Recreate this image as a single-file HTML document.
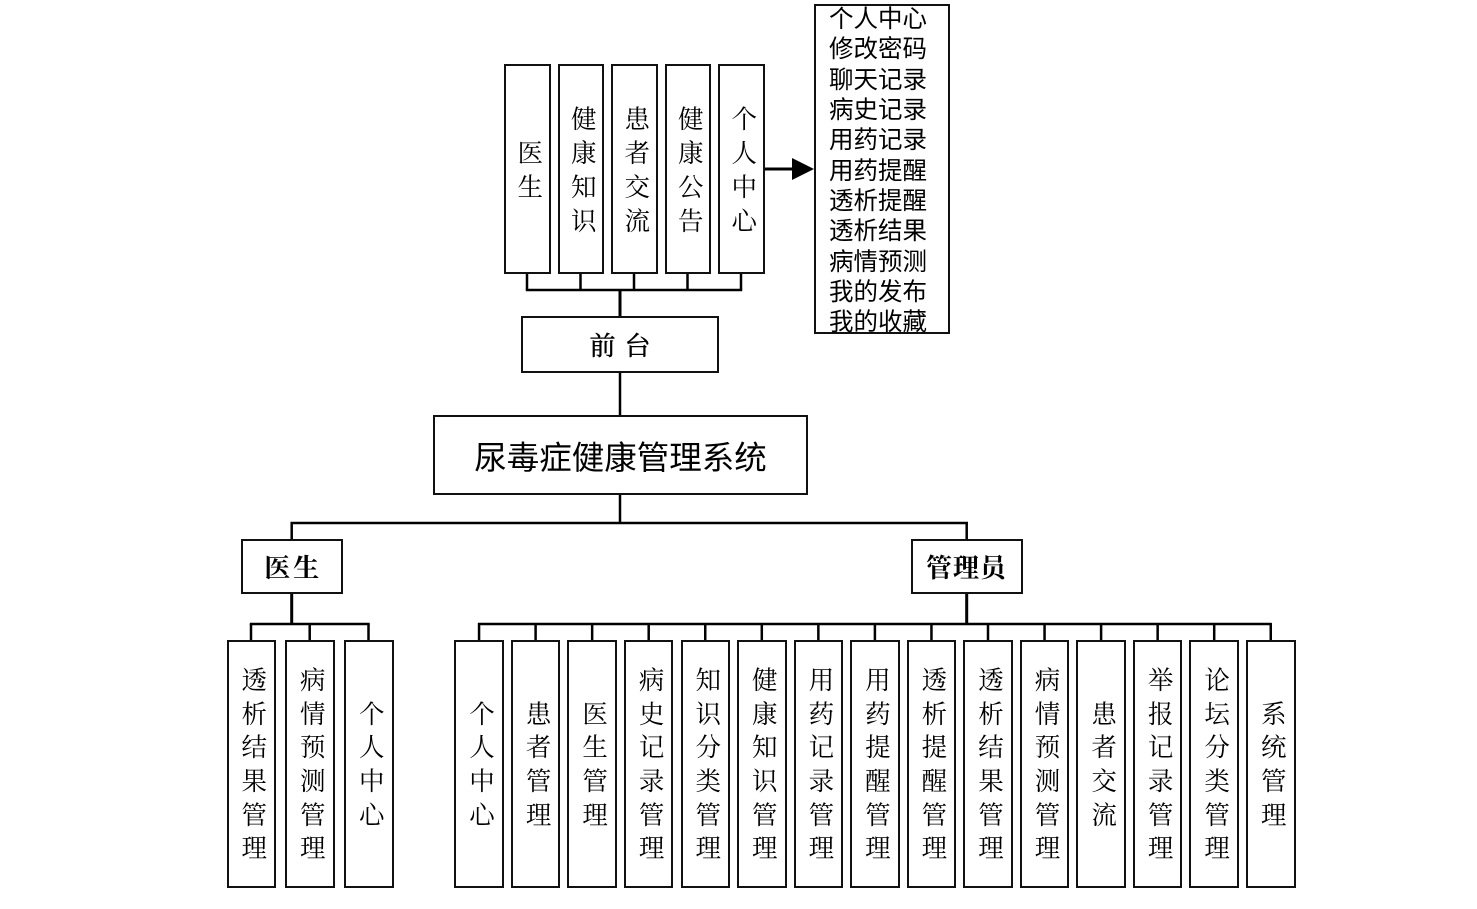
<!DOCTYPE html>
<html><head><meta charset="utf-8">
<style>
html,body{margin:0;padding:0;background:#fff;}
#c{position:relative;width:1477px;height:909px;overflow:hidden;background:#fff;}
.b{position:absolute;box-sizing:border-box;border:2.5px solid #111;background:#fff;display:flex;align-items:center;justify-content:center;}
.v{font-family:"Liberation Serif","Noto Serif CJK SC",serif;color:#000;text-align:center;word-break:break-all;margin-left:6px;}
.v25{font-size:25.5px;width:26px;line-height:34px;margin-top:4px;}
.v26{font-size:25.5px;width:26px;line-height:33.6px;margin-top:2px;}
.lbl{font-family:"Liberation Serif","Noto Serif CJK SC",serif;font-weight:bold;font-size:26px;color:#000;white-space:nowrap;}
svg{position:absolute;left:0;top:0;}
</style></head><body>
<div id="c">
<svg width="1477" height="909" viewBox="0 0 1477 909">
<g stroke="#000" stroke-width="2.5" fill="none">
<line x1="527" y1="273" x2="527" y2="290"/>
<line x1="580.5" y1="273" x2="580.5" y2="290"/>
<line x1="634" y1="273" x2="634" y2="290"/>
<line x1="687.5" y1="273" x2="687.5" y2="290"/>
<line x1="741" y1="273" x2="741" y2="290"/>
<line x1="525.8" y1="290" x2="742.2" y2="290"/>
<line x1="620" y1="290" x2="620" y2="317" stroke-width="3"/>
<line x1="620" y1="372" x2="620" y2="416"/>
<line x1="620" y1="493" x2="620" y2="523"/>
<line x1="290.5" y1="523" x2="968" y2="523"/>
<line x1="291.7" y1="522" x2="291.7" y2="540"/>
<line x1="966.7" y1="522" x2="966.7" y2="540"/>
<line x1="291.7" y1="592" x2="291.7" y2="624" stroke-width="3"/>
<line x1="249.8" y1="624" x2="369.7" y2="624"/>
<line x1="251" y1="624" x2="251" y2="641"/>
<line x1="309.7" y1="624" x2="309.7" y2="641"/>
<line x1="368.5" y1="624" x2="368.5" y2="641"/>
<line x1="966.7" y1="592" x2="966.7" y2="624" stroke-width="3"/>
<line x1="478" y1="624" x2="1271.3" y2="624"/>
</g>
<g id="adrops" stroke="#000" stroke-width="2.5"></g>
<line x1="762" y1="169" x2="794" y2="169" stroke="#000" stroke-width="3"/>
<polygon points="792,158 814,169 792,180" fill="#000"/>
</svg>

<div class="b" style="left:504px;top:64px;width:46.5px;height:210px;"><div class="v v25">医生</div></div>
<div class="b" style="left:557.5px;top:64px;width:46.5px;height:210px;"><div class="v v25">健康知识</div></div>
<div class="b" style="left:611px;top:64px;width:46.5px;height:210px;"><div class="v v25">患者交流</div></div>
<div class="b" style="left:664.5px;top:64px;width:46.5px;height:210px;"><div class="v v25">健康公告</div></div>
<div class="b" style="left:718px;top:64px;width:46.5px;height:210px;"><div class="v v25">个人中心</div></div>

<div class="b" style="left:814px;top:4px;width:136px;height:330px;display:block;overflow:visible;background:transparent;"></div>
<div style="position:absolute;left:829px;top:5px;font-family:'Liberation Sans','Noto Sans CJK SC',sans-serif;font-size:24.5px;line-height:30.35px;color:#000;white-space:nowrap;">个人中心<br>修改密码<br>聊天记录<br>病史记录<br>用药记录<br>用药提醒<br>透析提醒<br>透析结果<br>病情预测<br>我的发布<br>我的收藏</div>

<div class="b" style="left:521px;top:316px;width:198px;height:57px;"><span class="lbl" style="letter-spacing:9px;margin-left:9px;font-weight:normal;-webkit-text-stroke:0.5px #000;">前台</span></div>

<div class="b" style="left:433px;top:415px;width:375px;height:80px;"><span style="font-family:'Liberation Sans','Noto Sans CJK SC',sans-serif;font-size:32.5px;color:#000;white-space:nowrap;">尿毒症健康管理系统</span></div>

<div class="b" style="left:241px;top:539px;width:101.5px;height:55px;"><span class="lbl" style="letter-spacing:3px;margin-left:3px;">医生</span></div>
<div class="b" style="left:910.5px;top:539px;width:112px;height:55px;"><span class="lbl" style="letter-spacing:1px;">管理员</span></div>

<div class="b" style="left:226.5px;top:640px;width:49.5px;height:248px;"><div class="v v26">透析结果管理</div></div>
<div class="b" style="left:285px;top:640px;width:49.5px;height:248px;"><div class="v v26">病情预测管理</div></div>
<div class="b" style="left:344px;top:640px;width:49.5px;height:248px;"><div class="v v26">个人中心</div></div>

<div id="admin"></div>
</div>
<script>
var labels=["个人中心","患者管理","医生管理","病史记录管理","知识分类管理","健康知识管理","用药记录管理","用药提醒管理","透析提醒管理","透析结果管理","病情预测管理","患者交流","举报记录管理","论坛分类管理","系统管理"];
var h="",d="";
for(var i=0;i<labels.length;i++){
  var x=454.3+i*56.55;
  h+='<div class="b" style="left:'+x.toFixed(2)+'px;top:640px;width:49.5px;height:248px;"><div class="v v26">'+labels[i]+'</div></div>';
  var cx=x+24.75;
  d+='<line x1="'+cx.toFixed(2)+'" y1="623" x2="'+cx.toFixed(2)+'" y2="641"/>';
}
document.getElementById("admin").innerHTML=h;
document.getElementById("adrops").innerHTML=d;
</script>
</body></html>
